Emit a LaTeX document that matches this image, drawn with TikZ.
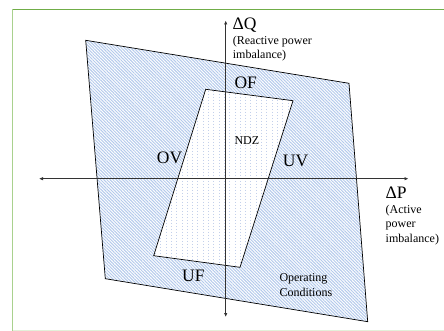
\documentclass[tikz,border=0pt]{standalone}
\usepackage{fontspec}
\setmainfont{Liberation Serif}
\usetikzlibrary{patterns.meta,arrows.meta}
\definecolor{stripe}{RGB}{180,202,236}
\definecolor{dotc}{RGB}{195,208,235}
\definecolor{frametop}{RGB}{112,173,71}
\definecolor{frameleft}{RGB}{169,209,142}
\definecolor{framebot}{RGB}{226,240,217}
\tikzset{
  axis/.style={draw=black!80, line width=0.9pt, {Latex[length=4pt,width=3.5pt]}-{Latex[length=4pt,width=3.5pt]}},
  big/.style={font=\fontsize{17.5}{18}\selectfont, inner sep=0pt, anchor=base west},
  small/.style={font=\fontsize{12}{14.6}\selectfont, inner sep=0pt, align=left, anchor=base west},
}
\begin{document}
\begin{tikzpicture}[x=1pt,y=-1pt]
\useasboundingbox (0,0) rectangle (444,331);
\fill[white] (0,0) rectangle (444,331);
% frame
\draw[frametop, line width=1pt] (12,9.5) -- (444,9.5);
\draw[frameleft, line width=1.3pt] (12.8,9) -- (12.8,331);
\draw[framebot, line width=1pt] (13,330.5) -- (444,330.5);
% outer region
\coordinate (o1) at (85.7,40.3);
\coordinate (o2) at (349,83.3);
\coordinate (o3) at (367.7,321.7);
\coordinate (o4) at (105.3,278.7);
\fill[white] (o1) -- (o2) -- (o3) -- (o4) -- cycle;
\fill[pattern={Lines[angle=-45,distance=2.2pt,line width=1pt]}, pattern color=stripe] (o1) -- (o2) -- (o3) -- (o4) -- cycle;
\draw[black, line width=0.7pt] (o1) -- (o2) -- (o3) -- (o4) -- cycle;
% inner region
\coordinate (i1) at (205.7,89.3);
\coordinate (i2) at (293,100.7);
\coordinate (i3) at (240,267.3);
\coordinate (i4) at (153.7,255.7);
\fill[white] (i1) -- (i2) -- (i3) -- (i4) -- cycle;
\begin{scope}
\clip (i1) -- (i2) -- (i3) -- (i4) -- cycle;
\foreach \xx in {150,155.3,...,300} {
  \draw[dotc, line width=0.5pt, dash pattern=on 0.6pt off 2.4pt] (\xx,85) -- (\xx,270);
}
\end{scope}
\draw[black, line width=0.7pt] (i1) -- (i2) -- (i3) -- (i4) -- cycle;
% axes
\coordinate (qtop) at (225.7,20.5);
\coordinate (qbot) at (225.7,317);
\coordinate (pleft) at (39,178.7);
\coordinate (pright) at (408.5,178.7);
\draw[axis] (qbot) -- (qtop);
\draw[axis] (pleft) -- (pright);
% labels
\node[big] (dq) at (232.5,29.3) {ΔQ};
\node[small] (dqt) at (232.7,59) {(Reactive power\\imbalance)};
\node[big] (dp) at (385.5,198.3) {ΔP};
\node[small] (dpt) at (385.5,242.5) {(Active\\power\\imbalance)};
\node[big] (of) at (234.3,88.3) {OF};
\node[big] (ov) at (156.7,163.3) {OV};
\node[big] (uv) at (282.7,166.7) {UV};
\node[big] (uf) at (182,281.7) {UF};
\node[small] (ndz) at (234.3,144.3) {NDZ};
\node[small] (oc) at (279.3,296.3) {Operating\\Conditions};
\end{tikzpicture}
\end{document}
